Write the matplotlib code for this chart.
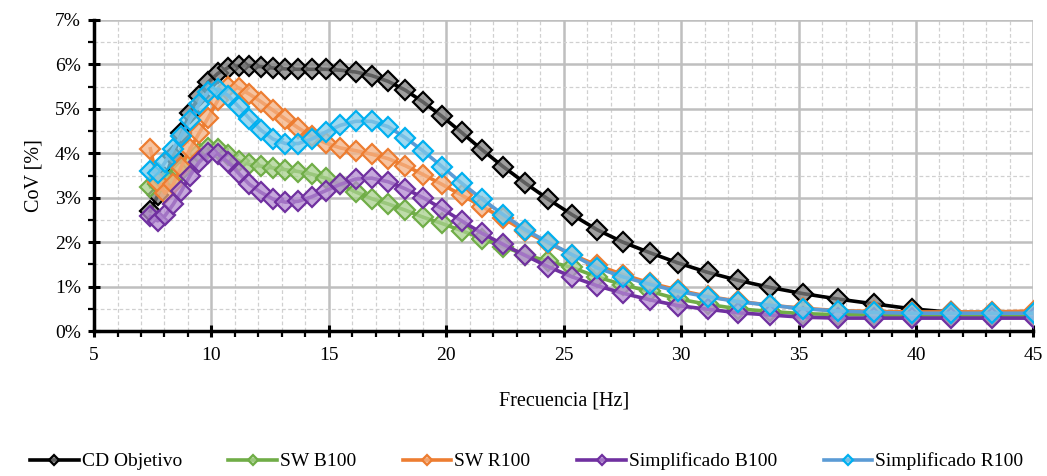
import matplotlib
matplotlib.use("Agg")
import matplotlib.pyplot as plt
from matplotlib.ticker import MultipleLocator, FuncFormatter
from matplotlib.colors import to_rgba

plt.rcParams['font.family'] = ['Liberation Serif', 'DejaVu Serif']

freq = [7.40, 7.71, 8.03, 8.37, 8.72, 9.09, 9.47, 9.86, 10.28, 10.71,
        11.16, 11.62, 12.11, 12.62, 13.15, 13.70, 14.27, 14.87, 15.49, 16.14,
        16.82, 17.52, 18.26, 19.02, 19.82, 20.65, 21.52, 22.42, 23.36, 24.33,
        25.35, 26.42, 27.52, 28.68, 29.88, 31.13, 32.43, 33.79, 35.21, 36.68,
        38.22, 39.82, 41.49, 43.23, 45.04]

cd_objetivo = [2.70, 3.05, 3.45, 3.95, 4.45, 4.90, 5.30, 5.60, 5.80, 5.93,
               5.97, 5.97, 5.95, 5.92, 5.90, 5.89, 5.89, 5.89, 5.87, 5.83,
               5.75, 5.62, 5.42, 5.15, 4.83, 4.47, 4.08, 3.70, 3.33, 2.97,
               2.62, 2.28, 2.00, 1.76, 1.53, 1.32, 1.14, 0.98, 0.84, 0.72,
               0.61, 0.50, 0.42, 0.41, 0.41]

sw_b100 = [3.25, 3.30, 3.35, 3.45, 3.60, 3.80, 4.00, 4.12, 4.10, 3.97,
           3.83, 3.75, 3.71, 3.67, 3.63, 3.59, 3.53, 3.44, 3.30, 3.13,
           2.98, 2.86, 2.72, 2.56, 2.42, 2.26, 2.08, 1.90, 1.72, 1.57,
           1.43, 1.22, 1.04, 0.89, 0.72, 0.60, 0.50, 0.44, 0.39, 0.37,
           0.36, 0.35, 0.35, 0.35, 0.36]

sw_r100 = [4.10, 3.35, 3.10, 3.30, 3.70, 4.10, 4.45, 4.80, 5.20, 5.50,
           5.47, 5.33, 5.16, 4.97, 4.77, 4.57, 4.38, 4.23, 4.12, 4.06,
           3.98, 3.88, 3.72, 3.52, 3.30, 3.06, 2.80, 2.54, 2.24, 1.98,
           1.72, 1.48, 1.27, 1.08, 0.92, 0.78, 0.67, 0.58, 0.51, 0.46,
           0.44, 0.43, 0.43, 0.43, 0.45]

simp_b100 = [2.58, 2.48, 2.60, 2.85, 3.15, 3.50, 3.80, 4.00, 3.98, 3.80,
             3.55, 3.30, 3.12, 2.97, 2.90, 2.92, 3.02, 3.16, 3.30, 3.42,
             3.44, 3.36, 3.20, 3.00, 2.75, 2.48, 2.20, 1.95, 1.70, 1.45,
             1.22, 1.02, 0.85, 0.70, 0.57, 0.49, 0.41, 0.36, 0.31, 0.29,
             0.29, 0.29, 0.29, 0.29, 0.29]

simp_r100 = [3.60, 3.55, 3.80, 4.10, 4.40, 4.75, 5.10, 5.38, 5.45, 5.30,
             5.05, 4.78, 4.52, 4.32, 4.22, 4.22, 4.32, 4.48, 4.63, 4.72,
             4.72, 4.60, 4.35, 4.05, 3.70, 3.33, 2.97, 2.62, 2.28, 2.00,
             1.72, 1.42, 1.22, 1.05, 0.89, 0.77, 0.66, 0.58, 0.50, 0.45,
             0.42, 0.40, 0.40, 0.40, 0.40]

series = [
    ("CD Objetivo", cd_objetivo, "#000000", "#000000", "#7F7F7F"),
    ("SW B100", sw_b100, "#70AD47", "#70AD47", "#A9D18E"),
    ("SW R100", sw_r100, "#ED7D31", "#ED7D31", "#F4B183"),
    ("Simplificado B100", simp_b100, "#7030A0", "#7030A0", "#B38BD1"),
    ("Simplificado R100", simp_r100, "#5B9BD5", "#00B0F0", "#7FCBEA"),
]

fig = plt.figure(figsize=(10.47, 4.76), dpi=100)
ax = fig.add_axes([0.0898, 0.3046, 0.8972, 0.6534])

for name, vals, lc, ec, fc in series:
    ax.plot(freq, [v / 100 for v in vals], color=lc, lw=2.6,
            marker='D', markersize=10.5, markeredgewidth=1.6,
            markeredgecolor=ec, markerfacecolor=to_rgba(fc, 0.75),
            label=name, zorder=3)

ax.set_xlim(5, 45)
ax.set_ylim(0, 0.07)
ax.xaxis.set_major_locator(MultipleLocator(5))
ax.xaxis.set_minor_locator(MultipleLocator(1))
ax.yaxis.set_major_locator(MultipleLocator(0.01))
ax.yaxis.set_minor_locator(MultipleLocator(0.005))
ax.yaxis.set_major_formatter(FuncFormatter(lambda v, p: f"{v*100:.0f}%"))

ax.grid(which='major', color='#BFBFBF', lw=1.8, ls='-', zorder=0)
ax.grid(which='minor', color='#D0D0D0', lw=0.9, ls=(0, (3, 2)), zorder=0)
ax.set_axisbelow(True)

for s in ['top', 'right']:
    ax.spines[s].set_visible(False)
for s in ['left', 'bottom']:
    ax.spines[s].set_linewidth(2.5)
    ax.spines[s].set_color('black')

ax.tick_params(axis='both', which='major', direction='inout', length=9, width=2.2,
               labelsize=14, color='black')
ax.tick_params(axis='both', which='minor', direction='out', length=4, width=1.6,
               color='black')
ax.tick_params(axis='x', pad=7)
ax.tick_params(axis='y', pad=5)

ax.set_xlabel("Frecuencia [Hz]", fontsize=14.5, labelpad=20)
ax.set_ylabel("CoV [%]", fontsize=14.5, labelpad=8)

leg = fig.legend(loc='lower center', bbox_to_anchor=(0.503, -0.025), ncol=5,
                 frameon=False, fontsize=14, handlelength=2.5,
                 columnspacing=2.4, handletextpad=0.15, markerscale=0.5)

fig.savefig("out.png", dpi=100)
